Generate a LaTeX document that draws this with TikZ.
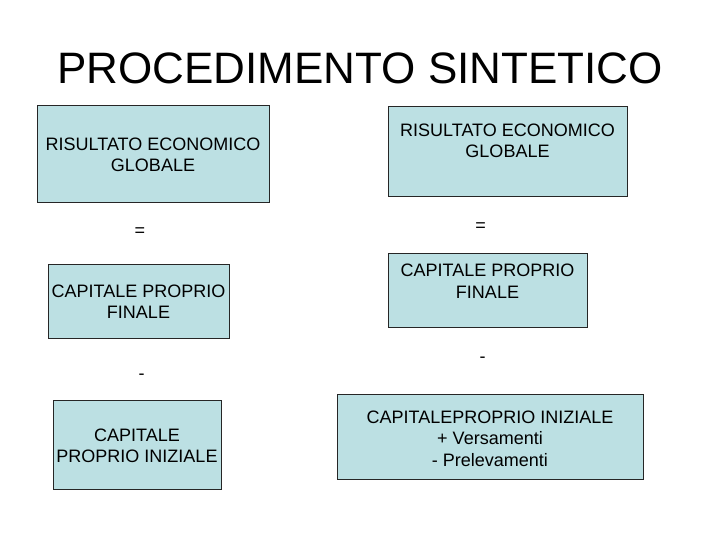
\documentclass[tikz,border=0pt]{standalone}
\usepackage{fontspec}
\setmainfont{Liberation Sans}
\usepackage{xcolor}
\usepackage{tikz}
\usetikzlibrary{shapes,positioning,calc}
\definecolor{azzurro}{RGB}{188,224,227}
\tikzstyle{titolo} = [inner sep=0pt, font=\fontsize{44}{50}\selectfont]
\tikzstyle{voce} = [rectangle, draw=black!85, line width=0.8pt, fill=azzurro, inner sep=0pt, align=center, text depth=0pt, font=\fontsize{18}{21}\selectfont]
\tikzstyle{segno} = [inner sep=0pt, font=\fontsize{18}{21}\selectfont]

\begin{document}
\begin{tikzpicture}[x=1pt, y=-1pt]
\useasboundingbox[fill=white] (0,0) rectangle (720,540);

% Titolo
\node (titolo) [titolo] at (360,68) {PROCEDIMENTO SINTETICO};

% Colonna sinistra
\node (reg1) [voce, minimum width=232pt, minimum height=97pt, text height=37pt] at (153,153.5) {RISULTATO ECONOMICO\\GLOBALE};
\node (ug1) [segno] at (140,232.5) {=};
\node (cpf1) [voce, minimum width=181pt, minimum height=74pt, text height=34pt] at (138.5,301) {CAPITALE PROPRIO\\FINALE};
\node (meno1) [segno] at (141.5,377) {-};
\node (cpi1) [voce, minimum width=168pt, minimum height=89pt, text height=35pt] at (137,444.5) {CAPITALE\\PROPRIO INIZIALE};

% Colonna destra
\node (reg2) [voce, minimum width=239pt, minimum height=90pt, text height=14pt] at (507.5,151) {RISULTATO ECONOMICO\\GLOBALE};
\node (ug2) [segno] at (480.5,227.5) {=};
\node (cpf2) [voce, minimum width=199pt, minimum height=74pt, text height=16pt] at (487.5,290) {CAPITALE PROPRIO\\FINALE};
\node (meno2) [segno] at (482.5,360) {-};
\node (cpi2) [voce, minimum width=306pt, minimum height=85pt, text height=59pt, font=\fontsize{18}{21.5}\selectfont] at (490,436.5) {CAPITALEPROPRIO INIZIALE\\+ Versamenti\\- Prelevamenti};

\end{tikzpicture}
\end{document}
